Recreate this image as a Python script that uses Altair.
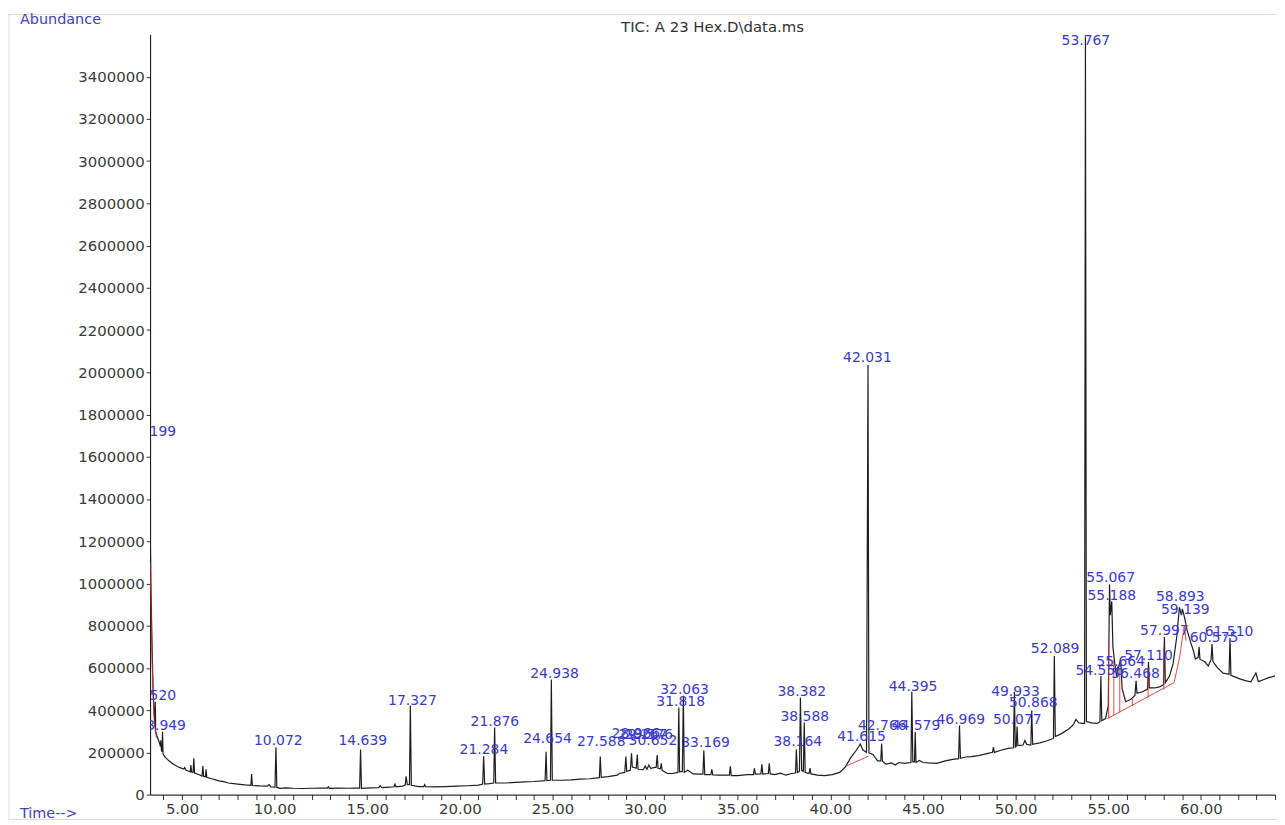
import altair as alt
import pandas as pd

FONT = "DejaVu Sans"
BLUE = "#3a3ac8"

# ---------------- data ----------------
trace_time = [
    3.28, 3.33, 3.39, 3.44, 3.50, 3.54, 3.56, 3.58, 3.64, 3.72, 3.80, 3.84, 3.86, 3.89, 3.93, 3.95, 3.98,
    4.10, 4.30, 4.50, 4.80, 5.00, 5.10, 5.15, 5.22, 5.35, 5.45, 5.48, 5.52, 5.60, 5.64, 5.68, 5.90,
    6.08, 6.13, 6.17, 6.27, 6.30, 6.34, 6.60, 7.00, 7.30, 7.50, 7.80, 8.00, 8.40, 8.72, 8.76, 8.80,
    9.20, 9.60, 9.70, 9.80, 10.02, 10.072, 10.12, 10.30, 10.60, 11.00, 11.50, 12.00, 12.50, 12.85,
    12.90, 12.95, 13.50, 14.00, 14.30, 14.59, 14.639, 14.69, 15.20, 15.62, 15.70, 15.78, 16.20, 16.45,
    16.50, 16.55, 16.90, 17.05, 17.10, 17.16, 17.28, 17.327, 17.38, 17.80, 18.05, 18.10, 18.15, 18.60,
    19.20, 19.80, 20.40, 21.00, 21.23, 21.284, 21.34, 21.60, 21.83, 21.876, 21.93, 22.50, 23.00, 23.50,
    24.00, 24.60, 24.654, 24.70, 24.89, 24.938, 24.99, 25.50, 26.00, 26.50, 27.00, 27.53, 27.58, 27.63,
    28.00, 28.50, 28.60, 28.90, 28.96, 29.01, 29.20, 29.267, 29.31, 29.52, 29.576, 29.62, 29.90, 30.00,
    30.10, 30.20, 30.30, 30.60, 30.652, 30.70, 30.83, 30.87, 30.92, 31.20, 31.50, 31.77, 31.818, 31.86,
    32.01, 32.063, 32.11, 32.30, 32.60, 33.00, 33.12, 33.169, 33.22, 33.55, 33.60, 33.65, 34.00, 34.55,
    34.60, 34.65, 35.00, 35.50, 35.85, 35.90, 35.95, 36.25, 36.30, 36.35, 36.65, 36.70, 36.75, 37.00,
    37.30, 37.60, 37.90, 38.12, 38.164, 38.22, 38.33, 38.382, 38.45, 38.54, 38.588, 38.64, 38.85, 38.90,
    38.95, 39.30, 39.70, 40.10, 40.50, 40.80, 41.10, 41.40, 41.615, 41.75, 41.95, 42.031, 42.08, 42.30,
    42.55, 42.72, 42.766, 42.81, 43.00, 43.30, 43.50, 43.70, 44.00, 44.35, 44.395, 44.45, 44.54, 44.579,
    44.62, 44.80, 45.00, 45.30, 45.75, 46.20, 46.60, 46.92, 46.969, 47.02, 47.30, 47.60, 48.00, 48.50,
    48.75, 48.80, 48.85, 49.20, 49.60, 49.88, 49.933, 49.98, 50.03, 50.077, 50.12, 50.40, 50.50, 50.60,
    50.82, 50.868, 50.92, 51.30, 51.70, 52.04, 52.089, 52.14, 52.50, 52.90, 53.10, 53.26, 53.40, 53.60,
    53.72, 53.767, 53.82, 54.10, 54.40, 54.55, 54.60, 54.65, 54.85, 55.00, 55.067, 55.11, 55.188, 55.25,
    55.35, 55.45, 55.55, 55.664, 55.75, 55.94, 56.20, 56.44, 56.50, 56.55, 56.85, 57.12, 57.17, 57.22,
    57.50, 57.76, 57.98, 58.03, 58.08, 58.30, 58.50, 58.70, 58.84, 58.95, 59.00, 59.139, 59.25, 59.45,
    59.60, 59.70, 59.85, 59.90, 59.95, 60.20, 60.40, 60.55, 60.60, 60.65, 60.90, 61.20, 61.52, 61.57,
    61.62, 61.90, 62.10, 62.40, 62.70, 62.97, 63.10, 63.40, 63.70, 64.00,
]
trace_abund = [
    1290000, 958000, 690000, 500000, 384000, 322000, 440000, 300000, 280000, 262000, 240000, 228000, 257000, 212000, 203000, 298000, 192000,
    176000, 160000, 146000, 131000, 124000, 121000, 128000, 115000, 112000, 108000, 140000, 107000, 105000, 172000, 102000, 95000,
    88000, 135000, 86000, 84000, 120000, 82000, 75000, 65000, 60000, 55000, 52000, 50000, 46000, 44000, 97000, 43000,
    41000, 40000, 47000, 37000, 36000, 224000, 34000, 30000, 32000, 30000, 29000, 30000, 31000, 31000,
    37000, 30000, 31000, 30000, 31000, 31000, 214000, 30000, 32000, 33000, 42000, 33000, 35000, 37000,
    50000, 37000, 40000, 45000, 87000, 48000, 47000, 422000, 44000, 38000, 38000, 47000, 38000, 37000,
    38000, 40000, 42000, 45000, 50000, 181000, 50000, 52000, 55000, 318000, 55000, 55000, 58000, 60000,
    62000, 66000, 203000, 66000, 68000, 545000, 68000, 68000, 70000, 73000, 75000, 80000, 180000, 82000,
    85000, 92000, 100000, 105000, 180000, 110000, 115000, 196000, 130000, 125000, 190000, 120000, 118000, 135000,
    120000, 140000, 125000, 130000, 187000, 125000, 122000, 148000, 115000, 100000, 100000, 105000, 412000, 108000,
    110000, 468000, 105000, 115000, 98000, 97000, 97000, 209000, 95000, 95000, 120000, 93000, 92000, 92000,
    134000, 90000, 90000, 95000, 95000, 125000, 97000, 98000, 143000, 97000, 100000, 148000, 98000, 95000,
    102000, 92000, 100000, 102000, 214000, 105000, 110000, 459000, 115000, 110000, 341000, 105000, 100000, 125000,
    98000, 92000, 90000, 95000, 105000, 130000, 175000, 210000, 240000, 212000, 200000, 2035000, 198000, 190000,
    160000, 160000, 242000, 158000, 145000, 150000, 140000, 152000, 148000, 152000, 487000, 155000, 155000, 298000,
    152000, 162000, 152000, 150000, 148000, 160000, 167000, 170000, 327000, 172000, 178000, 180000, 185000, 195000,
    200000, 225000, 200000, 210000, 219000, 222000, 487000, 225000, 228000, 322000, 232000, 235000, 256000, 238000,
    235000, 398000, 238000, 245000, 255000, 266000, 656000, 275000, 290000, 313000, 330000, 356000, 340000, 337000,
    337000, 3590000, 346000, 340000, 337000, 345000, 562000, 350000, 360000, 420000, 995000, 850000, 915000, 700000,
    620000, 560000, 600000, 640000, 500000, 440000, 450000, 470000, 539000, 480000, 487000, 500000, 628000, 505000,
    505000, 510000, 520000, 746000, 530000, 560000, 620000, 750000, 887000, 850000, 880000, 830000, 780000, 720000,
    680000, 642000, 650000, 700000, 640000, 630000, 609000, 640000, 713000, 630000, 600000, 575000, 570000, 741000,
    565000, 555000, 548000, 540000, 534000, 576000, 535000, 545000, 555000, 562000,
]

# red integration baselines
red_seg = [1, 1, 1, 1, 1, 1, 1, 2, 2, 3, 3, 3, 3, 3, 4, 4, 5, 5, 6, 6, 7, 7, 8, 8, 9, 9]
red_time = [3.28, 3.33, 3.39, 3.44, 3.50, 3.56, 3.64, 40.85, 42.05, 54.95, 58.55, 58.85, 59.10, 59.20,
            55.02, 55.02, 55.30, 55.30, 55.62, 55.62, 56.30, 56.30, 57.15, 57.15, 58.00, 58.00]
red_abund = [1100000, 880000, 640000, 470000, 360000, 300000, 268000, 135000, 182000, 360000, 530000, 650000, 800000, 730000,
             362000, 720000, 374000, 640000, 388000, 600000, 420000, 455000, 460000, 600000, 497000, 700000]

# peak labels (text and anchor in data units, as drawn in the reference)
label_text = ["3.199", "3.520", "3.949", "10.072", "14.639", "17.327", "21.284", "21.876", "24.654", "24.938",
              "27.588", "28.966", "29.267", "29.576", "30.652", "31.818", "32.063", "33.169", "38.164", "38.382",
              "38.588", "41.615", "42.031", "42.766", "44.579", "44.395", "46.969", "49.933", "50.077", "50.868",
              "52.089", "53.767", "54.556", "55.067", "55.188", "55.664", "56.468", "57.110", "57.997", "58.893",
              "59.139", "60.575", "61.510"]
label_time = [3.61, 3.61, 4.14, 10.20, 14.76, 17.44, 21.30, 21.89, 24.73, 25.11,
              27.63, 29.50, 29.88, 30.20, 30.42, 31.92, 32.13, 33.26, 38.24, 38.46,
              38.62, 41.68, 42.00, 42.80, 44.62, 44.46, 47.04, 49.99, 50.09, 50.95,
              52.13, 53.79, 54.54, 55.13, 55.19, 55.67, 56.47, 57.17, 58.03, 58.89,
              59.16, 60.71, 61.52]
label_abund = [1715000, 468000, 327000, 256000, 252000, 445000, 209000, 346000, 261000, 572000,
               247000, 289000, 280000, 280000, 256000, 440000, 496000, 242000, 247000, 487000,
               369000, 271000, 2069000, 327000, 327000, 511000, 355000, 487000, 355000, 435000,
               689000, 3569000, 586000, 1024000, 939000, 628000, 572000, 656000, 774000, 934000,
               873000, 741000, 769000]

x_ticks = list(range(4, 65))
y_ticks = list(range(0, 3500001, 200000))

# ---------------- chart ----------------
trace_df = pd.DataFrame({"t": trace_time, "v": trace_abund, "i": range(len(trace_time))})
red_df = pd.DataFrame({"t": red_time, "v": red_abund, "seg": red_seg, "i": range(len(red_time))})
lab_df = pd.DataFrame({"t": label_time, "v": label_abund, "txt": label_text})
one = pd.DataFrame({"a": [0]})

x_scale = alt.Scale(domain=[3.28, 64.0], nice=False, zero=False)
y_scale = alt.Scale(domain=[0, 3600000], nice=False, zero=True)

x_axis = alt.Axis(
    values=x_ticks,
    labelExpr="datum.value % 5 === 0 ? format(datum.value, '.2f') : ''",
    title=None, grid=False, domainColor="#000000", domainWidth=1,
    tickColor="#333333", tickSize=5, labelFont=FONT, labelFontSize=15,
    labelColor="#3a3a3a", labelPadding=2, labelOverlap=False, labelFlush=False,
)
y_axis = alt.Axis(
    values=y_ticks, format="d", title=None, grid=False,
    domainColor="#000000", domainWidth=1, tickColor="#333333", tickSize=4,
    labelFont=FONT, labelFontSize=15, labelColor="#3a3a3a", labelPadding=2,
    labelOverlap=False,
)

X = alt.X("t:Q", scale=x_scale, axis=x_axis)
Y = alt.Y("v:Q", scale=y_scale, axis=y_axis)

trace = alt.Chart(trace_df).mark_line(color="#1e1e1e", strokeWidth=1.2, clip=True).encode(
    x=X, y=Y, order="i:Q",
)

red = alt.Chart(red_df).mark_line(color="#e02828", strokeWidth=1, clip=True, opacity=0.85).encode(
    x=X, y=Y, detail="seg:N", order="i:Q",
)

labels = alt.Chart(lab_df).mark_text(
    font=FONT, fontSize=14, color=BLUE, align="center", baseline="middle", clip=True
).encode(x=X, y=Y, text="txt:N")

title = alt.Chart(one).mark_text(
    font=FONT, fontSize=15, color="#333333", align="center", baseline="middle"
).encode(x=alt.value(566), y=alt.value(-7), text=alt.value("TIC: A 23 Hex.D\\data.ms"))

ylab = alt.Chart(one).mark_text(
    font=FONT, fontSize=14.5, color="#4040c0", align="left", baseline="middle"
).encode(x=alt.value(-131), y=alt.value(-14), text=alt.value("Abundance"))

xlab = alt.Chart(one).mark_text(
    font=FONT, fontSize=14.5, color="#4040c0", align="left", baseline="middle"
).encode(x=alt.value(-131), y=alt.value(785), text=alt.value("Time-->"))

FRAME = "#cfe6c6"
frame_top = alt.Chart(one).mark_rule(color=FRAME, strokeWidth=1).encode(
    x=alt.value(-143), x2=alt.value(1134), y=alt.value(-20))
frame_bottom = alt.Chart(one).mark_rule(color=FRAME, strokeWidth=1).encode(
    x=alt.value(-143), x2=alt.value(1134), y=alt.value(790))
frame_left = alt.Chart(one).mark_rule(color="#d8e2d8", strokeWidth=1).encode(
    x=alt.value(-142), y=alt.value(-20), y2=alt.value(790))

chart = alt.layer(
    trace, red, labels, frame_top, frame_bottom, frame_left, title, ylab, xlab
).properties(
    width=1132, height=765,
    autosize=alt.AutoSizeParams(type="none"),
    padding={"left": 143, "top": 24, "right": 2, "bottom": 26},
    background="#ffffff",
).configure_view(stroke=None)

chart.save("out.html", embed_options={"renderer": "svg", "actions": False})
